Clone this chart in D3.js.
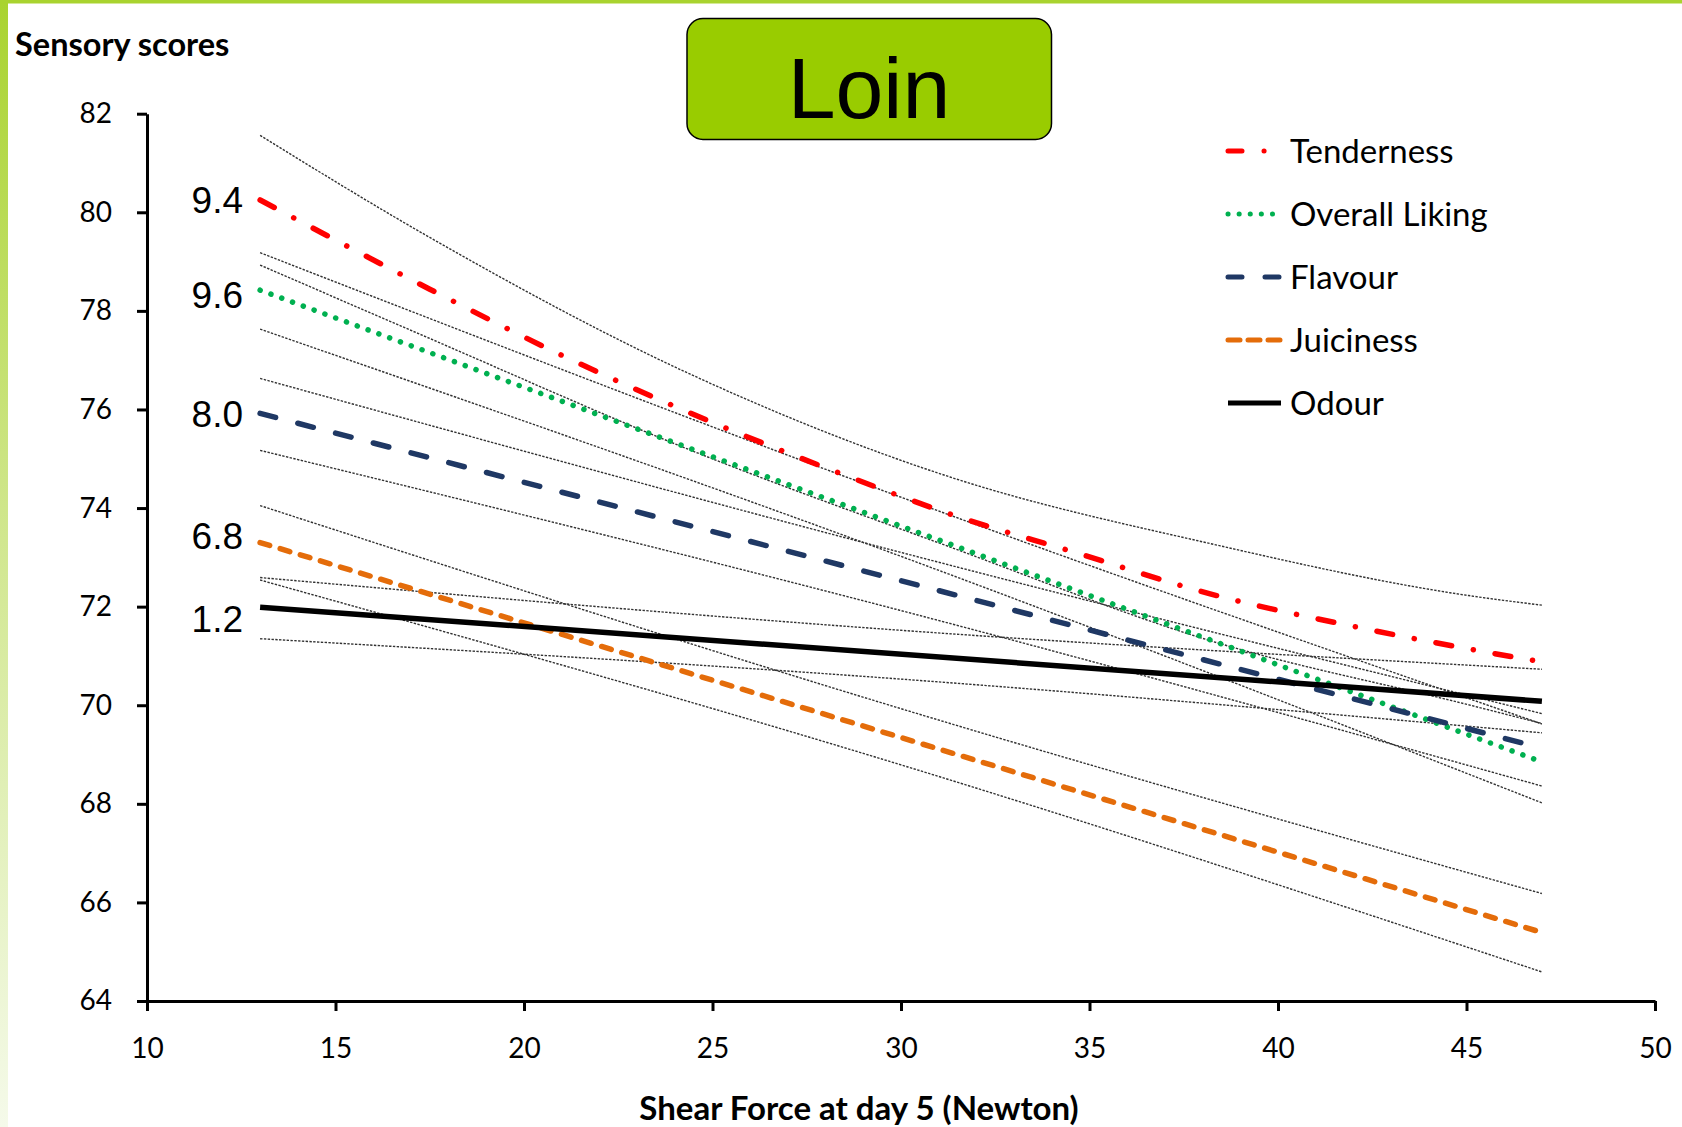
<!DOCTYPE html>
<html>
<head>
<meta charset="utf-8">
<script src="https://cdn.jsdelivr.net/npm/d3@7"></script>
<style>
  html, body { margin: 0; padding: 0; background: #fff; }
  svg { display: block; }
</style>
</head>
<body>
<div id="chart"></div>
<script>
// Sensory scores vs shear force at day 5 (loin): fitted lines and their bounds
// each line is a list of [shear force, score] points
const series = ['Tenderness', 'Overall Liking', 'Flavour', 'Juiciness', 'Odour'];

const tenderness = [[13, 80.25], [17.5, 78.44], [21, 77.1], [24.4, 75.93], [28.4, 74.7], [31.3, 73.88],
  [34.7, 73.08], [38.2, 72.26], [42, 71.6], [45, 71.15], [47, 70.88]];
const tendernessUpper = [[13, 81.56], [17.5, 79.49], [24.4, 76.72], [31.3, 74.63], [38.2, 73.28], [45.1, 72.22], [47, 72.03]];
const tendernessLower = [[13, 78.93], [17.5, 77.44], [24.4, 75.18], [31.3, 73.21], [38.2, 71.31], [45.1, 70.0], [47, 69.63]];

const overallLiking = [[13, 78.42], [47, 68.85]];
const overallLikingUpper = [[13, 79.18], [30, 74.22], [47, 69.62]];
const overallLikingLower = [[13, 77.63], [30, 73.02], [47, 68.02]];

const flavour = [[13, 75.92], [47, 69.13]];
const flavourUpper = [[13, 76.63], [30, 73.1], [47, 69.83]];
const flavourLower = [[13, 75.17], [30, 71.92], [47, 68.36]];

const juiciness = [[13, 73.3], [47, 65.39]];
const juicinessUpper = [[13, 74.05], [30, 69.93], [47, 66.18]];
const juicinessLower = [[13, 72.54], [30, 68.79], [47, 64.59]];

const odour = [[13, 71.99], [47, 70.08]];
const odourUpper = [[13, 72.59], [30, 71.52], [47, 70.73]];
const odourLower = [[13, 71.35], [30, 70.53], [47, 69.44]];

const startLabels = ['9.4', '9.6', '8.0', '6.8', '1.2'];
const xTicks = [10, 15, 20, 25, 30, 35, 40, 45, 50];
const yTicks = [64, 66, 68, 70, 72, 74, 76, 78, 80, 82];

const fitLines = [tenderness, overallLiking, flavour, juiciness, odour];
const boundLines = [tendernessUpper, tendernessLower, overallLikingUpper, overallLikingLower,
  flavourUpper, flavourLower, juicinessUpper, juicinessLower, odourUpper, odourLower];

const W = 1682, H = 1127;
const STYLE = {
  'Tenderness':     { color: '#ff0000', dash: '16 22 0.1 22', legendDash: '14 22 0.1 50', cap: 'round', labelDy: 13 },
  'Overall Liking': { color: '#00b050', dash: '0.1 11.4',     legendDash: '0.1 11',       cap: 'round', labelDy: 18 },
  'Flavour':        { color: '#1f3864', dash: '16 23',        legendDash: '14 23',        cap: 'round', labelDy: 14 },
  'Juiciness':      { color: '#e46c0a', dash: '10 11',        legendDash: '12 8',         cap: 'round', labelDy: 6 },
  'Odour':          { color: '#000000', dash: null,           legendDash: null,           cap: 'butt',  labelDy: 25 }
};

const svg = d3.select('#chart').append('svg')
  .attr('width', W).attr('height', H)
  .attr('font-family', 'Lato, "Open Sans", sans-serif');

// slide decoration: green bars
const defs = svg.append('defs');
const grad = defs.append('linearGradient').attr('id', 'sideGrad')
  .attr('x1', 0).attr('y1', 0).attr('x2', 0).attr('y2', 1);
grad.append('stop').attr('offset', '0%').attr('stop-color', '#a9d32f');
grad.append('stop').attr('offset', '45%').attr('stop-color', '#cfe68a');
grad.append('stop').attr('offset', '100%').attr('stop-color', '#f5faea');
svg.append('rect').attr('x', 0).attr('y', 0).attr('width', 8).attr('height', H).attr('fill', 'url(#sideGrad)');
svg.append('rect').attr('x', 0).attr('y', 0).attr('width', W).attr('height', 3.5).attr('fill', '#a9d32f');

const x = d3.scaleLinear().domain([10, 50]).range([147, 1655]);
const y = d3.scaleLinear().domain([64, 82]).range([1001, 113.7]);

// axes
const xAxis = svg.append('g')
  .attr('transform', `translate(0,${y(64)})`)
  .call(d3.axisBottom(x).tickValues(xTicks).tickSize(10).tickSizeOuter(0).tickPadding(27));
const yAxis = svg.append('g')
  .attr('transform', `translate(${x(10)},0)`)
  .call(d3.axisLeft(y).tickValues(yTicks).tickSize(10).tickSizeOuter(0).tickPadding(25));

[xAxis, yAxis].forEach(a => {
  a.select('.domain').attr('stroke', '#000').attr('stroke-width', 3);
  a.selectAll('.tick line').attr('stroke', '#000').attr('stroke-width', 3);
  a.selectAll('.tick text')
    .attr('fill', '#000')
    .attr('font-family', 'Lato, sans-serif')
    .attr('font-size', 28);
});

const line = d3.line()
  .x(d => x(d[0]))
  .y(d => y(d[1]))
  .curve(d3.curveMonotoneX);

// thin bound lines
svg.append('g').selectAll('path').data(boundLines).join('path')
  .attr('d', line)
  .attr('fill', 'none')
  .attr('stroke', '#333')
  .attr('stroke-width', 1.4)
  .attr('stroke-dasharray', '2.4 1.4');

// fitted lines
const fits = series.map((s, i) => ({ name: s, pts: fitLines[i] }));
svg.append('g').selectAll('path').data(fits).join('path')
  .attr('d', d => line(d.pts))
  .attr('fill', 'none')
  .attr('stroke', d => STYLE[d.name].color)
  .attr('stroke-width', 5.5)
  .attr('stroke-linecap', d => STYLE[d.name].cap)
  .attr('stroke-dasharray', d => STYLE[d.name].dash);

// values written at the start of each line
svg.append('g').selectAll('text').data(fits).join('text')
  .attr('x', 243)
  .attr('y', d => y(d.pts[0][1]) + STYLE[d.name].labelDy)
  .attr('text-anchor', 'end')
  .attr('font-family', '"Liberation Sans", Arial, sans-serif')
  .attr('font-size', 37)
  .attr('fill', '#000')
  .text((d, i) => startLabels[i]);

// legend
const legend = svg.append('g').attr('transform', 'translate(1226,151)');
const item = legend.selectAll('g').data(series).join('g')
  .attr('transform', (d, i) => `translate(0,${i * 63})`);
item.append('line')
  .attr('x1', 2).attr('x2', 55).attr('y1', 0).attr('y2', 0)
  .attr('stroke', d => STYLE[d].color)
  .attr('stroke-width', 5)
  .attr('stroke-linecap', d => STYLE[d].cap)
  .attr('stroke-dasharray', d => STYLE[d].legendDash);
item.append('text')
  .attr('x', 64).attr('y', 12)
  .attr('font-size', 33)
  .attr('fill', '#000')
  .text(d => d);

// axis titles
svg.append('text')
  .attr('x', 15).attr('y', 56)
  .attr('font-size', 32.5).attr('font-weight', 700)
  .text('Sensory scores');
svg.append('text')
  .attr('x', 859).attr('y', 1120)
  .attr('text-anchor', 'middle')
  .attr('font-size', 33).attr('font-weight', 700)
  .text('Shear Force at day 5 (Newton)');

// title box
svg.append('rect')
  .attr('x', 687).attr('y', 18.5).attr('width', 364.5).attr('height', 121)
  .attr('rx', 16).attr('ry', 16)
  .attr('fill', '#99cc00')
  .attr('stroke', '#000').attr('stroke-width', 1.5);
svg.append('text')
  .attr('x', 869).attr('y', 118)
  .attr('text-anchor', 'middle')
  .attr('font-family', '"Liberation Sans", Arial, sans-serif')
  .attr('font-size', 86)
  .attr('fill', '#000')
  .text('Loin');
</script>
</body>
</html>
